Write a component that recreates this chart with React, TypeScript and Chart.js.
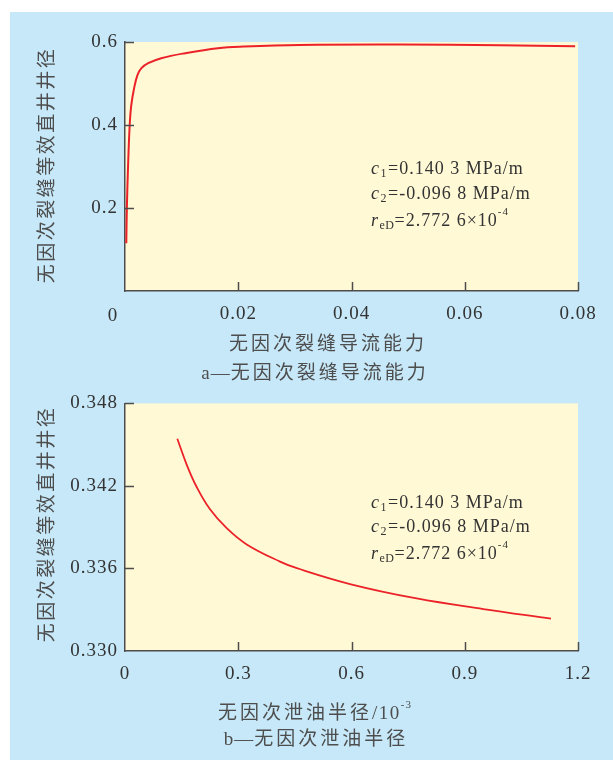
import React, { useEffect, useRef } from 'react';
import { Chart, registerables } from 'chart.js';
Chart.register(...registerables);

// ---------- data ----------
const xA = [0.00023, 0.00033, 0.00053, 0.00083, 0.00111, 0.0016, 0.0022, 0.0029, 0.0041, 0.0064, 0.0106, 0.0164, 0.021, 0.0309, 0.0486, 0.0662, 0.0795];
const yA = [0.115, 0.2, 0.296, 0.4, 0.448, 0.488, 0.52, 0.537, 0.549, 0.561, 0.573, 0.585, 0.589, 0.593, 0.594, 0.592, 0.59];

const xB = [0.1386, 0.1634, 0.1899, 0.2252, 0.2694, 0.3224, 0.4106, 0.4553, 0.596, 0.7727, 0.949, 1.1285];
const yB = [0.34543, 0.34355, 0.34192, 0.3403, 0.33893, 0.33775, 0.3365, 0.33602, 0.33487, 0.33382, 0.33305, 0.33235];

const xTicksA = [0, 0.02, 0.04, 0.06, 0.08];
const yTicksA = [0, 0.2, 0.4, 0.6];
const xTicksB = [0, 0.3, 0.6, 0.9, 1.2];
const yTicksB = [0.33, 0.336, 0.342, 0.348];

const yTitle = '无因次裂缝等效直井井径';
const xTitleA = '无因次裂缝导流能力';
const captionA = '无因次裂缝导流能力';
const xTitleB = '无因次泄油半径';
const captionB = '无因次泄油半径';
const noteC1 = '=0.140 3 MPa/m';
const noteC2 = '=-0.096 8 MPa/m';
const noteR = '=2.772 6×10';

// ---------- style ----------
const SERIF = '"Liberation Serif", "Times New Roman", serif';
const CJK = '"Noto Sans CJK SC", "Noto Sans", sans-serif';
const RED = '#ec2229';
const BLUE = '#c6e8f8';
const YELLOW = '#fff9d6';
const AXIS = '#4d4d4d';
const TEXT = '#333333';
const CJKTEXT = '#4d4d4d';

type Seg = { t: string; f: string; dy?: number; sp?: string };

function segWidth(ctx: CanvasRenderingContext2D, segs: Seg[]) {
  let w = 0;
  for (const s of segs) {
    ctx.font = s.f;
    (ctx as any).letterSpacing = s.sp || '1.5px';
    w += ctx.measureText(s.t).width;
  }
  return w;
}

function drawSegs(ctx: CanvasRenderingContext2D, segs: Seg[], x: number, y: number) {
  ctx.textAlign = 'left';
  ctx.textBaseline = 'alphabetic';
  let cx = x;
  for (const s of segs) {
    ctx.font = s.f;
    (ctx as any).letterSpacing = s.sp || '1.5px';
    ctx.fillText(s.t, cx, y + (s.dy || 0));
    cx += ctx.measureText(s.t).width;
  }
}

const notes: Seg[][] = [
  [
    { t: 'c', f: `italic 18px ${SERIF}` },
    { t: '1', f: `12px ${SERIF}`, dy: 2.5 },
    { t: noteC1, f: `18px ${SERIF}`, sp: '1px' },
  ],
  [
    { t: 'c', f: `italic 18px ${SERIF}` },
    { t: '2', f: `12px ${SERIF}`, dy: 2.5 },
    { t: noteC2, f: `18px ${SERIF}`, sp: '1px' },
  ],
  [
    { t: 'r', f: `italic 18px ${SERIF}` },
    { t: 'eD', f: `12px ${SERIF}`, dy: 2.5, sp: '0.5px' },
    { t: noteR, f: `18px ${SERIF}`, sp: '1px' },
    { t: '-4', f: `11px ${SERIF}`, dy: -11, sp: '1px' },
  ],
];

const CJKF = `19px ${CJK}`;
const CJKSP = '3px';

function decor(o: any) {
  return {
    id: 'decor',
    beforeDraw(chart: any) {
      const { ctx, chartArea: a } = chart;
      ctx.save();
      ctx.fillStyle = YELLOW;
      ctx.fillRect(a.left, a.top, a.right - a.left, a.bottom - a.top);
      ctx.restore();
      ctx.letterSpacing = '1px';
    },
    afterDraw(chart: any) {
      const { ctx, chartArea: a } = chart;
      const xs = chart.scales.x;
      const ys = chart.scales.y;
      ctx.save();
      // inward tick marks
      ctx.strokeStyle = AXIS;
      ctx.lineWidth = 1.5;
      ctx.beginPath();
      for (const t of xs.ticks) {
        if (t.value === xs.min) continue;
        const px = Math.round(xs.getPixelForValue(t.value)) + 0.5;
        ctx.moveTo(px, a.bottom);
        ctx.lineTo(px, a.bottom - 9);
      }
      for (const t of ys.ticks) {
        if (t.value === ys.min) continue;
        const py = Math.round(ys.getPixelForValue(t.value)) + 0.5;
        ctx.moveTo(a.left, py);
        ctx.lineTo(a.left + 9, py);
      }
      ctx.stroke();

      // origin label (chart a)
      if (o.origin) {
        ctx.fillStyle = TEXT;
        ctx.font = `19px ${SERIF}`;
        ctx.letterSpacing = '1px';
        ctx.textAlign = 'center';
        ctx.textBaseline = 'alphabetic';
        ctx.fillText('0', o.origin.x, o.origin.y);
      }

      // y title
      ctx.save();
      ctx.translate(o.yTitleX, o.yTitleY);
      ctx.rotate(-Math.PI / 2);
      ctx.fillStyle = CJKTEXT;
      ctx.font = CJKF;
      ctx.letterSpacing = '2.5px';
      ctx.textAlign = 'center';
      ctx.textBaseline = 'middle';
      ctx.fillText(yTitle, 0, 0);
      ctx.restore();

      // x title and caption
      ctx.fillStyle = CJKTEXT;
      const wt = segWidth(ctx, o.xTitle);
      drawSegs(ctx, o.xTitle, o.xTitleX - wt / 2, o.xTitleY);
      const wc = segWidth(ctx, o.caption);
      drawSegs(ctx, o.caption, o.capX - wc / 2, o.capY);

      // notes
      ctx.fillStyle = TEXT;
      notes.forEach((segs, i) => drawSegs(ctx, segs, o.noteX, o.noteYs[i]));
      ctx.restore();
    },
  };
}

function makeConfig(xs: number[], ys: number[], sx: any, sy: any, pad: any, xH: number, lw: number, plugin: any): any {
  const tickFont = { family: SERIF, size: 19 };
  return {
    type: 'line',
    data: {
      datasets: [
        {
          data: xs.map((x, i) => ({ x, y: ys[i] })),
          borderColor: RED,
          borderWidth: lw,
          pointRadius: 0,
          fill: false,
          tension: 0.4,
        },
      ],
    },
    options: {
      animation: false,
      responsive: false,
      maintainAspectRatio: false,
      layout: { padding: pad },
      plugins: { legend: { display: false }, tooltip: { enabled: false } },
      scales: {
        x: {
          type: 'linear',
          min: sx.min,
          max: sx.max,
          afterBuildTicks: (s: any) => {
            s.ticks = sx.ticks.map((v: number) => ({ value: v }));
          },
          afterFit: (s: any) => {
            s.height = xH;
          },
          grid: { display: false, drawTicks: false },
          border: { display: true, color: AXIS, width: 1.5 },
          ticks: {
            font: tickFont,
            color: TEXT,
            padding: 12,
            maxRotation: 0,
            autoSkip: false,
            callback: sx.fmt,
          },
        },
        y: {
          type: 'linear',
          min: sy.min,
          max: sy.max,
          afterBuildTicks: (s: any) => {
            s.ticks = sy.ticks.map((v: number) => ({ value: v }));
          },
          afterFit: (s: any) => {
            s.width = 115;
          },
          grid: { display: false, drawTicks: false },
          border: { display: true, color: AXIS, width: 1.5 },
          ticks: {
            font: tickFont,
            color: TEXT,
            padding: 7,
            autoSkip: false,
            callback: sy.fmt,
          },
        },
      },
    },
    plugins: [plugin],
  };
}

export default function App() {
  const refA = useRef<HTMLCanvasElement>(null);
  const refB = useRef<HTMLCanvasElement>(null);

  useEffect(() => {
    const plA = decor({
      origin: { x: 103, y: 309 },
      yTitleX: 36,
      yTitleY: 153,
      xTitle: [{ t: xTitleA, f: CJKF, sp: CJKSP }],
      xTitleX: 318,
      xTitleY: 338,
      caption: [
        { t: 'a', f: `19px ${SERIF}`, sp: '1px' },
        { t: '—', f: `19px ${SERIF}`, sp: '1px' },
        { t: captionA, f: CJKF, sp: CJKSP },
      ],
      capX: 305,
      capY: 367,
      noteX: 361,
      noteYs: [162, 187, 214],
    });
    const chartA = new Chart(
      refA.current as HTMLCanvasElement,
      makeConfig(
        xA,
        yA,
        { min: 0, max: 0.08, ticks: xTicksA, fmt: (v: number) => (v === 0 ? '' : v.toFixed(2)) },
        { min: 0, max: 0.6, ticks: yTicksA, fmt: (v: number) => (v === 0 ? '' : v.toFixed(1)) },
        { left: 0, top: 30, right: 35, bottom: 0 },
        94,
        2,
        plA
      )
    );

    const plB = decor({
      yTitleX: 36,
      yTitleY: 139,
      xTitle: [
        { t: xTitleB, f: CJKF, sp: CJKSP },
        { t: '/10', f: `19px ${SERIF}`, sp: '1.5px' },
        { t: '-3', f: `11px ${SERIF}`, dy: -11, sp: '1px' },
      ],
      xTitleX: 305,
      xTitleY: 334,
      caption: [
        { t: 'b', f: `19px ${SERIF}`, sp: '1px' },
        { t: '—', f: `19px ${SERIF}`, sp: '1px' },
        { t: captionB, f: CJKF, sp: CJKSP },
      ],
      capX: 306,
      capY: 360,
      noteX: 361,
      noteYs: [123, 147, 174],
    });
    const chartB = new Chart(
      refB.current as HTMLCanvasElement,
      makeConfig(
        xB,
        yB,
        { min: 0, max: 1.2, ticks: xTicksB, fmt: (v: number) => (v === 0 ? '0' : v.toFixed(1)) },
        { min: 0.33, max: 0.348, ticks: yTicksB, fmt: (v: number) => v.toFixed(3) },
        { left: 0, top: 16, right: 35, bottom: 0 },
        109,
        1.8,
        plB
      )
    );
    return () => {
      chartA.destroy();
      chartB.destroy();
    };
  }, []);

  return (
    <div style={{ position: 'absolute', left: 0, top: 0, width: 613, height: 760, background: '#fff', overflow: 'hidden' }}>
      <div style={{ position: 'absolute', left: 10, top: 12, width: 603, height: 748, background: BLUE }}>
        <canvas ref={refA} width={603} height={373} style={{ position: 'absolute', left: 0, top: 0, display: 'block' }} />
        <canvas ref={refB} width={603} height={375} style={{ position: 'absolute', left: 0, top: 373, display: 'block' }} />
      </div>
    </div>
  );
}
